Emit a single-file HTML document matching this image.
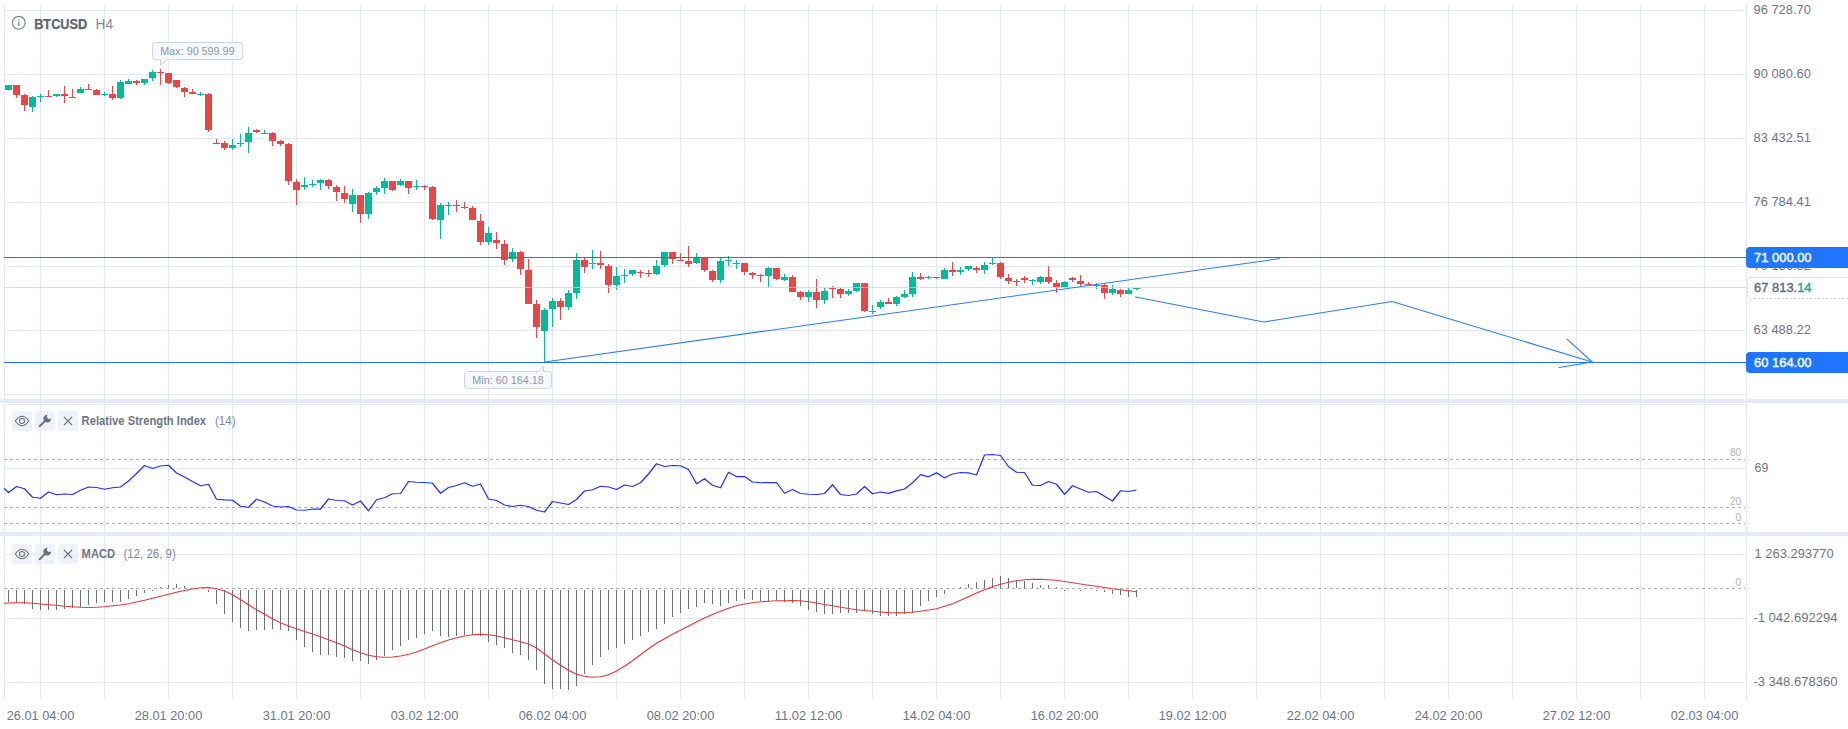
<!DOCTYPE html>
<html lang="en"><head><meta charset="utf-8"><title>BTCUSD H4</title>
<style>html,body{margin:0;padding:0;background:#fff;overflow:hidden}svg{display:block}</style>
</head><body>
<svg width="1848" height="729" viewBox="0 0 1848 729" font-family="'Liberation Sans', Arial, sans-serif">
<rect x="0" y="0" width="1848" height="729" fill="#ffffff"/>
<g fill="#e1e8fa" shape-rendering="crispEdges">
<rect x="4" y="5" width="1" height="694"/>
<rect x="40" y="5" width="1" height="694"/>
<rect x="104" y="5" width="1" height="694"/>
<rect x="168" y="5" width="1" height="694"/>
<rect x="232" y="5" width="1" height="694"/>
<rect x="296" y="5" width="1" height="694"/>
<rect x="360" y="5" width="1" height="694"/>
<rect x="424" y="5" width="1" height="694"/>
<rect x="488" y="5" width="1" height="694"/>
<rect x="552" y="5" width="1" height="694"/>
<rect x="616" y="5" width="1" height="694"/>
<rect x="680" y="5" width="1" height="694"/>
<rect x="744" y="5" width="1" height="694"/>
<rect x="808" y="5" width="1" height="694"/>
<rect x="872" y="5" width="1" height="694"/>
<rect x="936" y="5" width="1" height="694"/>
<rect x="1000" y="5" width="1" height="694"/>
<rect x="1064" y="5" width="1" height="694"/>
<rect x="1128" y="5" width="1" height="694"/>
<rect x="1192" y="5" width="1" height="694"/>
<rect x="1256" y="5" width="1" height="694"/>
<rect x="1320" y="5" width="1" height="694"/>
<rect x="1384" y="5" width="1" height="694"/>
<rect x="1448" y="5" width="1" height="694"/>
<rect x="1512" y="5" width="1" height="694"/>
<rect x="1576" y="5" width="1" height="694"/>
<rect x="1640" y="5" width="1" height="694"/>
<rect x="1704" y="5" width="1" height="694"/>
<rect x="1746" y="5" width="1" height="694"/>
<rect x="4" y="10" width="1743" height="1"/>
<rect x="4" y="74" width="1743" height="1"/>
<rect x="4" y="138" width="1743" height="1"/>
<rect x="4" y="202" width="1743" height="1"/>
<rect x="4" y="266" width="1743" height="1"/>
<rect x="4" y="330" width="1743" height="1"/>
<rect x="4" y="394" width="1743" height="1"/>
<rect x="4" y="404" width="1743" height="1"/>
<rect x="4" y="468" width="1743" height="1"/>
<rect x="4" y="554" width="1743" height="1"/>
<rect x="4" y="618" width="1743" height="1"/>
<rect x="4" y="682" width="1743" height="1"/>
</g>
<g fill="#e4eaf9" shape-rendering="crispEdges">
<rect x="0" y="399" width="1848" height="4"/>
<rect x="0" y="532" width="1848" height="4"/>
</g>
<g fill="#ea4547" shape-rendering="crispEdges"><rect x="16" y="85" width="1" height="13"/><rect x="13" y="85" width="7" height="10"/><rect x="24" y="94" width="1" height="17"/><rect x="21" y="95" width="7" height="10"/><rect x="48" y="90" width="1" height="7"/><rect x="45" y="96" width="7" height="1"/><rect x="64" y="86" width="1" height="17"/><rect x="61" y="94" width="7" height="2"/><rect x="72" y="89" width="1" height="9"/><rect x="69" y="97" width="7" height="1"/><rect x="88" y="84" width="1" height="6"/><rect x="85" y="89" width="7" height="1"/><rect x="96" y="89" width="1" height="6"/><rect x="93" y="90" width="7" height="5"/><rect x="112" y="86" width="1" height="14"/><rect x="109" y="94" width="7" height="4"/><rect x="136" y="80" width="1" height="5"/><rect x="133" y="81" width="7" height="2"/><rect x="160" y="69" width="1" height="16"/><rect x="157" y="72" width="7" height="1"/><rect x="168" y="73" width="1" height="11"/><rect x="165" y="73" width="7" height="10"/><rect x="176" y="80" width="1" height="8"/><rect x="173" y="80" width="7" height="7"/><rect x="184" y="87" width="1" height="10"/><rect x="181" y="88" width="7" height="4"/><rect x="192" y="89" width="1" height="5"/><rect x="189" y="92" width="7" height="2"/><rect x="208" y="93" width="1" height="39"/><rect x="205" y="94" width="7" height="36"/><rect x="216" y="139" width="1" height="5"/><rect x="213" y="143" width="7" height="1"/><rect x="224" y="141" width="1" height="9"/><rect x="221" y="143" width="7" height="5"/><rect x="256" y="129" width="1" height="4"/><rect x="253" y="130" width="7" height="2"/><rect x="272" y="132" width="1" height="14"/><rect x="269" y="133" width="7" height="8"/><rect x="280" y="140" width="1" height="6"/><rect x="277" y="141" width="7" height="3"/><rect x="288" y="143" width="1" height="42"/><rect x="285" y="144" width="7" height="37"/><rect x="296" y="179" width="1" height="26"/><rect x="293" y="182" width="7" height="8"/><rect x="328" y="179" width="1" height="10"/><rect x="325" y="180" width="7" height="6"/><rect x="336" y="185" width="1" height="16"/><rect x="333" y="187" width="7" height="5"/><rect x="344" y="186" width="1" height="17"/><rect x="341" y="193" width="7" height="6"/><rect x="360" y="195" width="1" height="28"/><rect x="357" y="195" width="7" height="19"/><rect x="392" y="181" width="1" height="10"/><rect x="389" y="181" width="7" height="9"/><rect x="408" y="181" width="1" height="13"/><rect x="405" y="181" width="7" height="7"/><rect x="424" y="185" width="1" height="5"/><rect x="421" y="186" width="7" height="1"/><rect x="432" y="186" width="1" height="34"/><rect x="429" y="187" width="7" height="32"/><rect x="456" y="200" width="1" height="12"/><rect x="453" y="205" width="7" height="1"/><rect x="464" y="202" width="1" height="7"/><rect x="461" y="207" width="7" height="1"/><rect x="472" y="206" width="1" height="14"/><rect x="469" y="208" width="7" height="12"/><rect x="480" y="214" width="1" height="31"/><rect x="477" y="221" width="7" height="21"/><rect x="496" y="232" width="1" height="17"/><rect x="493" y="240" width="7" height="3"/><rect x="504" y="240" width="1" height="25"/><rect x="501" y="244" width="7" height="16"/><rect x="520" y="251" width="1" height="24"/><rect x="517" y="252" width="7" height="17"/><rect x="528" y="259" width="1" height="45"/><rect x="525" y="270" width="7" height="34"/><rect x="536" y="300" width="1" height="38"/><rect x="533" y="304" width="7" height="23"/><rect x="560" y="298" width="1" height="22"/><rect x="557" y="301" width="7" height="6"/><rect x="584" y="258" width="1" height="15"/><rect x="581" y="260" width="7" height="7"/><rect x="600" y="251" width="1" height="18"/><rect x="597" y="263" width="7" height="2"/><rect x="608" y="264" width="1" height="29"/><rect x="605" y="266" width="7" height="19"/><rect x="640" y="270" width="1" height="8"/><rect x="637" y="272" width="7" height="1"/><rect x="648" y="270" width="1" height="7"/><rect x="645" y="273" width="7" height="1"/><rect x="672" y="252" width="1" height="12"/><rect x="669" y="252" width="7" height="7"/><rect x="680" y="253" width="1" height="8"/><rect x="677" y="260" width="7" height="1"/><rect x="688" y="246" width="1" height="21"/><rect x="685" y="261" width="7" height="3"/><rect x="704" y="258" width="1" height="14"/><rect x="701" y="258" width="7" height="12"/><rect x="712" y="270" width="1" height="12"/><rect x="709" y="271" width="7" height="9"/><rect x="744" y="263" width="1" height="12"/><rect x="741" y="263" width="7" height="9"/><rect x="752" y="272" width="1" height="7"/><rect x="749" y="273" width="7" height="2"/><rect x="760" y="274" width="1" height="8"/><rect x="757" y="275" width="7" height="1"/><rect x="776" y="268" width="1" height="12"/><rect x="773" y="268" width="7" height="11"/><rect x="792" y="275" width="1" height="17"/><rect x="789" y="277" width="7" height="15"/><rect x="800" y="291" width="1" height="9"/><rect x="797" y="292" width="7" height="5"/><rect x="816" y="279" width="1" height="29"/><rect x="813" y="292" width="7" height="8"/><rect x="832" y="286" width="1" height="12"/><rect x="829" y="288" width="7" height="1"/><rect x="840" y="288" width="1" height="10"/><rect x="837" y="289" width="7" height="5"/><rect x="864" y="283" width="1" height="29"/><rect x="861" y="283" width="7" height="28"/><rect x="888" y="298" width="1" height="6"/><rect x="885" y="302" width="7" height="2"/><rect x="920" y="273" width="1" height="7"/><rect x="917" y="277" width="7" height="2"/><rect x="936" y="277" width="1" height="2"/><rect x="933" y="277" width="7" height="1"/><rect x="952" y="262" width="1" height="14"/><rect x="949" y="270" width="7" height="2"/><rect x="976" y="266" width="1" height="7"/><rect x="973" y="268" width="7" height="2"/><rect x="1000" y="262" width="1" height="17"/><rect x="997" y="263" width="7" height="14"/><rect x="1008" y="274" width="1" height="10"/><rect x="1005" y="278" width="7" height="3"/><rect x="1016" y="279" width="1" height="7"/><rect x="1013" y="281" width="7" height="1"/><rect x="1024" y="276" width="1" height="7"/><rect x="1021" y="278" width="7" height="2"/><rect x="1048" y="266" width="1" height="18"/><rect x="1045" y="277" width="7" height="5"/><rect x="1056" y="280" width="1" height="13"/><rect x="1053" y="283" width="7" height="4"/><rect x="1072" y="277" width="1" height="5"/><rect x="1069" y="278" width="7" height="2"/><rect x="1080" y="275" width="1" height="11"/><rect x="1077" y="281" width="7" height="3"/><rect x="1088" y="282" width="1" height="3"/><rect x="1085" y="284" width="7" height="1"/><rect x="1104" y="284" width="1" height="15"/><rect x="1101" y="285" width="7" height="8"/><rect x="1120" y="289" width="1" height="8"/><rect x="1117" y="290" width="7" height="4"/></g>
<g fill="#00bc99" shape-rendering="crispEdges"><rect x="8" y="85" width="1" height="5"/><rect x="5" y="85" width="7" height="5"/><rect x="32" y="96" width="1" height="16"/><rect x="29" y="97" width="7" height="10"/><rect x="40" y="94" width="1" height="8"/><rect x="37" y="96" width="7" height="1"/><rect x="56" y="94" width="1" height="3"/><rect x="53" y="94" width="7" height="2"/><rect x="80" y="87" width="1" height="6"/><rect x="77" y="89" width="7" height="4"/><rect x="104" y="92" width="1" height="4"/><rect x="101" y="94" width="7" height="1"/><rect x="120" y="80" width="1" height="19"/><rect x="117" y="82" width="7" height="16"/><rect x="128" y="79" width="1" height="5"/><rect x="125" y="81" width="7" height="3"/><rect x="144" y="79" width="1" height="6"/><rect x="141" y="79" width="7" height="4"/><rect x="152" y="70" width="1" height="11"/><rect x="149" y="72" width="7" height="6"/><rect x="200" y="92" width="1" height="4"/><rect x="197" y="94" width="7" height="1"/><rect x="232" y="139" width="1" height="11"/><rect x="229" y="145" width="7" height="3"/><rect x="240" y="134" width="1" height="13"/><rect x="237" y="143" width="7" height="1"/><rect x="248" y="127" width="1" height="26"/><rect x="245" y="133" width="7" height="9"/><rect x="264" y="130" width="1" height="4"/><rect x="261" y="133" width="7" height="1"/><rect x="304" y="177" width="1" height="13"/><rect x="301" y="185" width="7" height="2"/><rect x="312" y="180" width="1" height="7"/><rect x="309" y="184" width="7" height="1"/><rect x="320" y="179" width="1" height="11"/><rect x="317" y="180" width="7" height="3"/><rect x="352" y="189" width="1" height="23"/><rect x="349" y="195" width="7" height="9"/><rect x="368" y="192" width="1" height="27"/><rect x="365" y="193" width="7" height="21"/><rect x="376" y="186" width="1" height="9"/><rect x="373" y="188" width="7" height="4"/><rect x="384" y="178" width="1" height="16"/><rect x="381" y="181" width="7" height="7"/><rect x="400" y="179" width="1" height="7"/><rect x="397" y="181" width="7" height="4"/><rect x="416" y="180" width="1" height="10"/><rect x="413" y="186" width="7" height="1"/><rect x="440" y="203" width="1" height="36"/><rect x="437" y="205" width="7" height="15"/><rect x="448" y="202" width="1" height="13"/><rect x="445" y="205" width="7" height="1"/><rect x="488" y="227" width="1" height="18"/><rect x="485" y="233" width="7" height="9"/><rect x="512" y="248" width="1" height="14"/><rect x="509" y="252" width="7" height="7"/><rect x="544" y="308" width="1" height="54"/><rect x="541" y="310" width="7" height="21"/><rect x="552" y="298" width="1" height="29"/><rect x="549" y="301" width="7" height="8"/><rect x="568" y="290" width="1" height="20"/><rect x="565" y="293" width="7" height="14"/><rect x="576" y="253" width="1" height="46"/><rect x="573" y="260" width="7" height="33"/><rect x="592" y="250" width="1" height="19"/><rect x="589" y="263" width="7" height="1"/><rect x="616" y="267" width="1" height="23"/><rect x="613" y="276" width="7" height="9"/><rect x="624" y="269" width="1" height="14"/><rect x="621" y="275" width="7" height="1"/><rect x="632" y="270" width="1" height="6"/><rect x="629" y="270" width="7" height="4"/><rect x="656" y="260" width="1" height="15"/><rect x="653" y="266" width="7" height="8"/><rect x="664" y="252" width="1" height="15"/><rect x="661" y="252" width="7" height="13"/><rect x="696" y="253" width="1" height="11"/><rect x="693" y="258" width="7" height="5"/><rect x="720" y="258" width="1" height="25"/><rect x="717" y="261" width="7" height="19"/><rect x="728" y="256" width="1" height="10"/><rect x="725" y="260" width="7" height="1"/><rect x="736" y="260" width="1" height="9"/><rect x="733" y="263" width="7" height="1"/><rect x="768" y="267" width="1" height="20"/><rect x="765" y="268" width="7" height="8"/><rect x="784" y="274" width="1" height="7"/><rect x="781" y="277" width="7" height="3"/><rect x="808" y="290" width="1" height="12"/><rect x="805" y="292" width="7" height="5"/><rect x="824" y="288" width="1" height="16"/><rect x="821" y="291" width="7" height="9"/><rect x="848" y="289" width="1" height="7"/><rect x="845" y="291" width="7" height="3"/><rect x="856" y="283" width="1" height="9"/><rect x="853" y="283" width="7" height="8"/><rect x="872" y="305" width="1" height="9"/><rect x="869" y="311" width="7" height="1"/><rect x="880" y="300" width="1" height="9"/><rect x="877" y="302" width="7" height="5"/><rect x="896" y="296" width="1" height="10"/><rect x="893" y="297" width="7" height="7"/><rect x="904" y="290" width="1" height="8"/><rect x="901" y="294" width="7" height="3"/><rect x="912" y="272" width="1" height="25"/><rect x="909" y="277" width="7" height="17"/><rect x="928" y="276" width="1" height="3"/><rect x="925" y="277" width="7" height="1"/><rect x="944" y="268" width="1" height="11"/><rect x="941" y="270" width="7" height="9"/><rect x="960" y="267" width="1" height="8"/><rect x="957" y="270" width="7" height="2"/><rect x="968" y="266" width="1" height="5"/><rect x="965" y="266" width="7" height="3"/><rect x="984" y="262" width="1" height="12"/><rect x="981" y="265" width="7" height="5"/><rect x="992" y="258" width="1" height="7"/><rect x="989" y="263" width="7" height="1"/><rect x="1032" y="279" width="1" height="6"/><rect x="1029" y="280" width="7" height="1"/><rect x="1040" y="276" width="1" height="8"/><rect x="1037" y="277" width="7" height="5"/><rect x="1064" y="281" width="1" height="6"/><rect x="1061" y="282" width="7" height="5"/><rect x="1096" y="283" width="1" height="6"/><rect x="1093" y="285" width="7" height="1"/><rect x="1112" y="285" width="1" height="10"/><rect x="1109" y="289" width="7" height="4"/><rect x="1128" y="288" width="1" height="6"/><rect x="1125" y="290" width="7" height="4"/><rect x="1136" y="288" width="1" height="2"/><rect x="1133" y="288" width="7" height="1"/></g>
<g fill="#1e76ff" shape-rendering="crispEdges">
<rect x="4" y="257" width="1742" height="1"/>
<rect x="4" y="362" width="1742" height="1"/>
</g>
<rect x="4" y="287" width="1742" height="1" fill="#c9cfe0" opacity="0.75" shape-rendering="crispEdges"/>
<g fill="none" stroke="#2f7bf5" stroke-width="1.05" stroke-linecap="round" stroke-linejoin="round">
<line x1="544.5" y1="362" x2="1279.8" y2="258.6"/>
<polyline points="1135.6,296.9 1263.8,321.9 1392,301.5 1592.2,362"/>
<polyline points="1567.1,339.2 1592.2,362 1559.2,367.5"/>
</g>
<g fill="#f4f6fb" fill-opacity="0.8" stroke="#ccd4e4" stroke-width="1">
<path d="M155.5,42.5 H239.7 Q242.7,42.5 242.7,45.5 V56.6 Q242.7,59.6 239.7,59.6 H166 L160.5,65.3 V59.6 H155.5 Q152.5,59.6 152.5,56.6 V45.5 Q152.5,42.5 155.5,42.5 Z"/>
<path d="M467.5,371.5 H538.5 L543.5,366.3 V371.5 H548.4 Q551.4,371.5 551.4,374.5 V385.4 Q551.4,388.4 548.4,388.4 H467.5 Q464.5,388.4 464.5,385.4 V374.5 Q464.5,371.5 467.5,371.5 Z"/>
</g>
<g fill="#8d97a7" font-size="11">
<text x="160.3" y="55" textLength="74.3" lengthAdjust="spacingAndGlyphs">Max: 90 599.99</text>
<text x="472.3" y="384" textLength="71.5" lengthAdjust="spacingAndGlyphs">Min: 60 164.18</text>
</g>
<g fill="none" stroke="#7b8697" stroke-width="1.2">
<circle cx="18.8" cy="22.8" r="6.4"/>
</g>
<g fill="#7b8697"><rect x="18.2" y="21.6" width="1.3" height="4.4"/><rect x="18.2" y="19.2" width="1.3" height="1.4"/></g>
<text x="34.2" y="29" font-size="14" font-weight="bold" fill="#5b6473" stroke="#5b6473" stroke-width="0.25" textLength="53" lengthAdjust="spacingAndGlyphs">BTCUSD</text>
<text x="95.6" y="29" font-size="14" fill="#7e8898" textLength="17.4" lengthAdjust="spacingAndGlyphs">H4</text>
<g fill="#6b7585" font-size="13">
<text x="1753.6" y="13.8" textLength="57.2" lengthAdjust="spacingAndGlyphs">96 728.70</text>
<text x="1753.6" y="77.8" textLength="57.2" lengthAdjust="spacingAndGlyphs">90 080.60</text>
<text x="1753.6" y="141.8" textLength="57.2" lengthAdjust="spacingAndGlyphs">83 432.51</text>
<text x="1753.6" y="205.8" textLength="57.2" lengthAdjust="spacingAndGlyphs">76 784.41</text>
<text x="1753.6" y="269.8" textLength="57.2" lengthAdjust="spacingAndGlyphs">70 136.32</text>
<text x="1753.6" y="333.8" textLength="57.2" lengthAdjust="spacingAndGlyphs">63 488.22</text>
<text x="1754.5" y="472.3" textLength="13.8" lengthAdjust="spacingAndGlyphs">69</text>
<text x="1754.6" y="557.8" textLength="79" lengthAdjust="spacingAndGlyphs">1 263.293770</text>
<text x="1753.4" y="621.8" textLength="84" lengthAdjust="spacingAndGlyphs">-1 042.692294</text>
<text x="1753.4" y="685.8" textLength="84" lengthAdjust="spacingAndGlyphs">-3 348.678360</text>
</g>
<path d="M1750,247 H1848 V268 H1750 Q1746,268 1746,264 V251 Q1746,247 1750,247 Z" fill="#1e76ff"/>
<path d="M1750,352 H1848 V373 H1750 Q1746,373 1746,369 V356 Q1746,352 1750,352 Z" fill="#1e76ff"/>
<g fill="#ffffff" font-size="13" stroke="#ffffff" stroke-width="0.4">
<text x="1754.1" y="262" textLength="57.4" lengthAdjust="spacingAndGlyphs">71 000.00</text>
<text x="1754.1" y="367" textLength="57.4" lengthAdjust="spacingAndGlyphs">60 164.00</text>
</g>
<path d="M1751.5,277.5 H1850 M1751.5,277.5 Q1747.5,277.5 1747.5,281.5 V294.5 Q1747.5,298.5 1751.5,298.5 H1850" fill="#ffffff" stroke="#cbd5ec" stroke-width="1" stroke-dasharray="2 2"/>
<text x="1754.1" y="292.4" font-size="13" fill="#5f6978" stroke="#5f6978" stroke-width="0.4" textLength="57.4" lengthAdjust="spacingAndGlyphs">67 813.<tspan fill="#12ad88" stroke="#12ad88">14</tspan></text>
<g stroke="#b2b2b2" stroke-width="1" stroke-dasharray="3 3" shape-rendering="crispEdges">
<line x1="4" y1="459.5" x2="1745" y2="459.5"/>
<line x1="4" y1="507.5" x2="1745" y2="507.5"/>
<line x1="4" y1="523.5" x2="1745" y2="523.5"/>
<line x1="4" y1="588.5" x2="1745" y2="588.5"/>
</g>
<g fill="#adb2bd" font-size="10" text-anchor="end">
<text x="1741" y="456.2">80</text>
<text x="1741" y="504.5">20</text>
<text x="1741" y="520.5">0</text>
<text x="1741" y="585.5">0</text>
</g>
<polyline points="4.0,488.25 8.5,492.50 16.5,486.50 24.5,488.75 32.5,497.25 40.5,498.25 48.5,492.00 56.5,494.75 64.5,494.00 72.5,494.50 80.5,490.25 88.5,487.00 96.5,487.50 104.5,489.25 112.5,487.75 120.5,487.00 128.5,481.00 136.5,473.50 144.5,465.50 152.5,468.50 160.5,466.00 168.5,465.25 176.5,473.00 184.5,477.00 192.5,481.50 200.5,485.75 208.5,484.25 216.5,499.25 224.5,499.85 232.5,500.25 240.5,506.25 248.5,507.25 256.5,499.25 264.5,502.00 272.5,506.00 280.5,507.00 288.5,506.50 296.5,510.00 304.5,510.25 312.5,509.00 320.5,509.00 328.5,499.00 336.5,500.50 344.5,500.75 352.5,505.00 360.5,501.00 368.5,510.75 376.5,499.75 384.5,497.75 392.5,493.75 400.5,493.50 408.5,481.50 416.5,482.25 424.5,482.50 432.5,483.25 440.5,493.25 448.5,487.50 456.5,485.50 464.5,482.75 472.5,486.25 480.5,484.00 488.5,499.00 496.5,500.50 504.5,505.00 512.5,506.50 520.5,505.25 528.5,506.50 536.5,510.25 544.5,512.00 552.5,501.50 560.5,503.00 568.5,504.50 576.5,499.50 584.5,491.00 592.5,489.75 600.5,486.25 608.5,487.00 616.5,489.50 624.5,485.00 632.5,486.50 640.5,482.75 648.5,474.00 656.5,463.75 664.5,466.50 672.5,465.50 680.5,465.75 688.5,469.50 696.5,483.75 704.5,478.75 712.5,485.25 720.5,487.75 728.5,472.25 736.5,476.50 744.5,476.50 752.5,482.00 760.5,482.75 768.5,482.50 776.5,482.50 784.5,493.25 792.5,489.50 800.5,493.50 808.5,494.25 816.5,494.50 824.5,493.50 832.5,484.75 840.5,494.50 848.5,495.50 856.5,494.00 864.5,486.50 872.5,493.75 880.5,492.00 888.5,493.40 896.5,490.90 904.5,489.00 912.5,482.80 920.5,474.60 928.5,476.80 936.5,472.90 944.5,477.80 952.5,474.00 960.5,472.50 968.5,472.90 976.5,475.00 984.5,455.00 992.5,454.50 1000.5,455.50 1008.5,466.50 1016.5,472.25 1024.5,472.50 1032.5,485.25 1040.5,485.50 1048.5,481.50 1056.5,484.25 1064.5,494.25 1072.5,485.75 1080.5,489.00 1088.5,492.25 1096.5,491.50 1104.5,496.25 1112.5,501.00 1120.5,490.75 1128.5,491.50 1136.5,490.00" fill="none" stroke="#2230ff" stroke-width="1.25" stroke-linejoin="round"/>
<g fill="#e9edf6" fill-opacity="0.7">
<rect x="12" y="411" width="20" height="20" rx="2.5"/>
<rect x="35" y="411" width="20" height="20" rx="2.5"/>
<rect x="58" y="411" width="20" height="20" rx="2.5"/>
</g>
<g fill="none" stroke="#66717f" stroke-width="1.1">
<path d="M15.3,421 Q22,411.6 28.7,421 Q22,430.4 15.3,421 Z"/>
<circle cx="22" cy="421" r="2.5"/>
</g>
<g transform="translate(47.2,418.7)">
<path d="M-2.2,2.2 L-7.6,7.5" stroke="#66717f" stroke-width="1.9" stroke-linecap="round" fill="none"/>
<path d="M0.35,-3.88 A3.9,3.9 0 1 0 3.88,-0.35 A2.5,2.5 0 0 1 0.35,-3.88 Z" fill="#66717f"/>
</g>
<g stroke="#66717f" stroke-width="1.25" fill="none">
<path d="M63.9,416.9 L72.1,425.1 M72.1,416.9 L63.9,425.1"/>
</g>
<text x="81.6" y="425.2" font-size="12" font-weight="bold" fill="#6b7585" textLength="124.5" lengthAdjust="spacingAndGlyphs">Relative Strength Index</text>
<text x="214.9" y="425.2" font-size="12" fill="#7e8898" textLength="20.7" lengthAdjust="spacingAndGlyphs">(14)</text>
<g fill="#6c707a" shape-rendering="crispEdges">
<rect x="8" y="590" width="1" height="12"/>
<rect x="16" y="590" width="1" height="13"/>
<rect x="24" y="590" width="1" height="14"/>
<rect x="32" y="590" width="1" height="19"/>
<rect x="40" y="590" width="1" height="20"/>
<rect x="48" y="590" width="1" height="20"/>
<rect x="56" y="590" width="1" height="20"/>
<rect x="64" y="590" width="1" height="19"/>
<rect x="72" y="590" width="1" height="18"/>
<rect x="80" y="590" width="1" height="17"/>
<rect x="88" y="590" width="1" height="15"/>
<rect x="96" y="590" width="1" height="13"/>
<rect x="104" y="590" width="1" height="12"/>
<rect x="112" y="590" width="1" height="12"/>
<rect x="120" y="590" width="1" height="12"/>
<rect x="128" y="590" width="1" height="9"/>
<rect x="136" y="590" width="1" height="6"/>
<rect x="144" y="590" width="1" height="3"/>
<rect x="152" y="590" width="1" height="1"/>
<rect x="160" y="587" width="1" height="1"/>
<rect x="168" y="585" width="1" height="3"/>
<rect x="176" y="584" width="1" height="4"/>
<rect x="184" y="586" width="1" height="2"/>
<rect x="208" y="590" width="1" height="2"/>
<rect x="216" y="590" width="1" height="14"/>
<rect x="224" y="590" width="1" height="24"/>
<rect x="232" y="590" width="1" height="32"/>
<rect x="240" y="590" width="1" height="38"/>
<rect x="248" y="590" width="1" height="41"/>
<rect x="256" y="590" width="1" height="40"/>
<rect x="264" y="590" width="1" height="40"/>
<rect x="272" y="590" width="1" height="39"/>
<rect x="280" y="590" width="1" height="40"/>
<rect x="288" y="590" width="1" height="41"/>
<rect x="296" y="590" width="1" height="50"/>
<rect x="304" y="590" width="1" height="57"/>
<rect x="312" y="590" width="1" height="62"/>
<rect x="320" y="590" width="1" height="65"/>
<rect x="328" y="590" width="1" height="65"/>
<rect x="336" y="590" width="1" height="67"/>
<rect x="344" y="590" width="1" height="68"/>
<rect x="352" y="590" width="1" height="71"/>
<rect x="360" y="590" width="1" height="71"/>
<rect x="368" y="590" width="1" height="74"/>
<rect x="376" y="590" width="1" height="70"/>
<rect x="384" y="590" width="1" height="66"/>
<rect x="392" y="590" width="1" height="60"/>
<rect x="400" y="590" width="1" height="56"/>
<rect x="408" y="590" width="1" height="50"/>
<rect x="416" y="590" width="1" height="48"/>
<rect x="424" y="590" width="1" height="44"/>
<rect x="432" y="590" width="1" height="41"/>
<rect x="440" y="590" width="1" height="46"/>
<rect x="448" y="590" width="1" height="47"/>
<rect x="456" y="590" width="1" height="46"/>
<rect x="464" y="590" width="1" height="45"/>
<rect x="472" y="590" width="1" height="45"/>
<rect x="480" y="590" width="1" height="46"/>
<rect x="488" y="590" width="1" height="52"/>
<rect x="496" y="590" width="1" height="55"/>
<rect x="504" y="590" width="1" height="58"/>
<rect x="512" y="590" width="1" height="63"/>
<rect x="520" y="590" width="1" height="65"/>
<rect x="528" y="590" width="1" height="70"/>
<rect x="536" y="590" width="1" height="80"/>
<rect x="544" y="590" width="1" height="94"/>
<rect x="552" y="590" width="1" height="99"/>
<rect x="560" y="590" width="1" height="99"/>
<rect x="568" y="590" width="1" height="100"/>
<rect x="576" y="590" width="1" height="96"/>
<rect x="584" y="590" width="1" height="84"/>
<rect x="592" y="590" width="1" height="75"/>
<rect x="600" y="590" width="1" height="67"/>
<rect x="608" y="590" width="1" height="60"/>
<rect x="616" y="590" width="1" height="58"/>
<rect x="624" y="590" width="1" height="54"/>
<rect x="632" y="590" width="1" height="50"/>
<rect x="640" y="590" width="1" height="46"/>
<rect x="648" y="590" width="1" height="42"/>
<rect x="656" y="590" width="1" height="39"/>
<rect x="664" y="590" width="1" height="34"/>
<rect x="672" y="590" width="1" height="27"/>
<rect x="680" y="590" width="1" height="23"/>
<rect x="688" y="590" width="1" height="19"/>
<rect x="696" y="590" width="1" height="17"/>
<rect x="704" y="590" width="1" height="13"/>
<rect x="712" y="590" width="1" height="14"/>
<rect x="720" y="590" width="1" height="16"/>
<rect x="728" y="590" width="1" height="13"/>
<rect x="736" y="590" width="1" height="11"/>
<rect x="744" y="590" width="1" height="9"/>
<rect x="752" y="590" width="1" height="10"/>
<rect x="760" y="590" width="1" height="11"/>
<rect x="768" y="590" width="1" height="12"/>
<rect x="776" y="590" width="1" height="11"/>
<rect x="784" y="590" width="1" height="12"/>
<rect x="792" y="590" width="1" height="13"/>
<rect x="800" y="590" width="1" height="16"/>
<rect x="808" y="590" width="1" height="20"/>
<rect x="816" y="590" width="1" height="22"/>
<rect x="824" y="590" width="1" height="24"/>
<rect x="832" y="590" width="1" height="24"/>
<rect x="840" y="590" width="1" height="23"/>
<rect x="848" y="590" width="1" height="23"/>
<rect x="856" y="590" width="1" height="23"/>
<rect x="864" y="590" width="1" height="21"/>
<rect x="872" y="590" width="1" height="24"/>
<rect x="880" y="590" width="1" height="26"/>
<rect x="888" y="590" width="1" height="26"/>
<rect x="896" y="590" width="1" height="26"/>
<rect x="904" y="590" width="1" height="24"/>
<rect x="912" y="590" width="1" height="23"/>
<rect x="920" y="590" width="1" height="16"/>
<rect x="928" y="590" width="1" height="11"/>
<rect x="936" y="590" width="1" height="7"/>
<rect x="944" y="590" width="1" height="4"/>
<rect x="960" y="587" width="1" height="1"/>
<rect x="968" y="584" width="1" height="4"/>
<rect x="976" y="582" width="1" height="6"/>
<rect x="984" y="580" width="1" height="8"/>
<rect x="992" y="578" width="1" height="10"/>
<rect x="1000" y="576" width="1" height="12"/>
<rect x="1008" y="578" width="1" height="10"/>
<rect x="1016" y="580" width="1" height="8"/>
<rect x="1024" y="581" width="1" height="7"/>
<rect x="1032" y="583" width="1" height="5"/>
<rect x="1040" y="585" width="1" height="3"/>
<rect x="1048" y="585" width="1" height="3"/>
<rect x="1056" y="587" width="1" height="1"/>
<rect x="1064" y="590" width="1" height="1"/>
<rect x="1080" y="590" width="1" height="1"/>
<rect x="1096" y="590" width="1" height="1"/>
<rect x="1104" y="590" width="1" height="2"/>
<rect x="1112" y="590" width="1" height="4"/>
<rect x="1120" y="590" width="1" height="5"/>
<rect x="1128" y="590" width="1" height="7"/>
<rect x="1136" y="590" width="1" height="7"/>
</g>
<polyline points="4.0,603.30 8.5,603.00 16.5,602.70 24.5,602.70 32.5,603.30 40.5,604.00 48.5,604.70 56.5,605.30 64.5,606.20 72.5,606.80 80.5,607.30 88.5,607.50 96.5,607.30 104.5,606.70 112.5,605.80 120.5,605.00 128.5,603.70 136.5,602.00 144.5,600.20 152.5,598.30 160.5,596.30 168.5,594.30 176.5,592.30 184.5,590.50 192.5,589.00 200.5,587.80 208.5,587.50 216.5,588.70 224.5,591.00 232.5,594.70 240.5,599.70 248.5,604.70 256.5,609.70 264.5,614.30 272.5,618.70 280.5,622.70 288.5,626.00 296.5,628.80 304.5,631.50 312.5,634.00 320.5,636.70 328.5,639.70 336.5,642.70 344.5,646.00 352.5,649.70 360.5,652.70 368.5,655.30 376.5,656.80 384.5,657.30 392.5,657.00 400.5,656.00 408.5,654.30 416.5,652.00 424.5,649.00 432.5,645.70 440.5,642.70 448.5,640.00 456.5,637.70 464.5,636.00 472.5,634.70 480.5,634.20 488.5,634.70 496.5,636.00 504.5,637.80 512.5,639.70 520.5,641.70 528.5,644.00 536.5,648.00 544.5,654.00 552.5,660.00 560.5,665.30 568.5,670.30 576.5,674.30 584.5,676.30 592.5,677.30 600.5,676.80 608.5,674.70 616.5,671.00 624.5,666.30 632.5,660.80 640.5,654.70 648.5,648.70 656.5,643.30 664.5,638.70 672.5,634.30 680.5,630.30 688.5,626.00 696.5,622.00 704.5,618.00 712.5,614.50 720.5,611.30 728.5,608.30 736.5,605.80 744.5,604.00 752.5,602.70 760.5,601.70 768.5,601.20 776.5,600.80 784.5,600.70 792.5,600.50 800.5,600.70 808.5,601.70 816.5,603.00 824.5,604.50 832.5,605.80 840.5,607.20 848.5,608.50 856.5,609.70 864.5,610.50 872.5,611.30 880.5,612.00 888.5,612.60 896.5,612.80 904.5,612.80 912.5,612.30 920.5,611.20 928.5,610.00 936.5,608.70 944.5,606.30 952.5,603.70 960.5,600.30 968.5,596.70 976.5,593.00 984.5,589.70 992.5,586.70 1000.5,584.30 1008.5,582.30 1016.5,580.70 1024.5,579.80 1032.5,579.30 1040.5,579.30 1048.5,579.70 1056.5,580.30 1064.5,581.50 1072.5,582.80 1080.5,584.00 1088.5,585.20 1096.5,586.30 1104.5,587.50 1112.5,588.70 1120.5,589.70 1128.5,590.70 1136.5,591.70" fill="none" stroke="#ea3838" stroke-width="1.15" stroke-linejoin="round"/>
<g fill="#e9edf6" fill-opacity="0.7">
<rect x="12" y="544" width="20" height="20" rx="2.5"/>
<rect x="35" y="544" width="20" height="20" rx="2.5"/>
<rect x="58" y="544" width="20" height="20" rx="2.5"/>
</g>
<g fill="none" stroke="#66717f" stroke-width="1.1">
<path d="M15.3,554 Q22,544.6 28.7,554 Q22,563.4 15.3,554 Z"/>
<circle cx="22" cy="554" r="2.5"/>
</g>
<g transform="translate(47.2,551.7)">
<path d="M-2.2,2.2 L-7.6,7.5" stroke="#66717f" stroke-width="1.9" stroke-linecap="round" fill="none"/>
<path d="M0.35,-3.88 A3.9,3.9 0 1 0 3.88,-0.35 A2.5,2.5 0 0 1 0.35,-3.88 Z" fill="#66717f"/>
</g>
<g stroke="#66717f" stroke-width="1.25" fill="none">
<path d="M63.9,549.9 L72.1,558.1 M72.1,549.9 L63.9,558.1"/>
</g>
<text x="81.6" y="558.2" font-size="12" font-weight="bold" fill="#6b7585" textLength="33.5" lengthAdjust="spacingAndGlyphs">MACD</text>
<text x="123.5" y="558.2" font-size="12" fill="#7e8898" textLength="52.3" lengthAdjust="spacingAndGlyphs">(12, 26, 9)</text>
<g fill="#6b7585" font-size="13" text-anchor="middle">
<text x="40.5" y="720" textLength="67.5" lengthAdjust="spacingAndGlyphs">26.01 04:00</text>
<text x="168.5" y="720" textLength="67.5" lengthAdjust="spacingAndGlyphs">28.01 20:00</text>
<text x="296.5" y="720" textLength="67.5" lengthAdjust="spacingAndGlyphs">31.01 20:00</text>
<text x="424.5" y="720" textLength="67.5" lengthAdjust="spacingAndGlyphs">03.02 12:00</text>
<text x="552.5" y="720" textLength="67.5" lengthAdjust="spacingAndGlyphs">06.02 04:00</text>
<text x="680.5" y="720" textLength="67.5" lengthAdjust="spacingAndGlyphs">08.02 20:00</text>
<text x="808.5" y="720" textLength="67.5" lengthAdjust="spacingAndGlyphs">11.02 12:00</text>
<text x="936.5" y="720" textLength="67.5" lengthAdjust="spacingAndGlyphs">14.02 04:00</text>
<text x="1064.5" y="720" textLength="67.5" lengthAdjust="spacingAndGlyphs">16.02 20:00</text>
<text x="1192.5" y="720" textLength="67.5" lengthAdjust="spacingAndGlyphs">19.02 12:00</text>
<text x="1320.5" y="720" textLength="67.5" lengthAdjust="spacingAndGlyphs">22.02 04:00</text>
<text x="1448.5" y="720" textLength="67.5" lengthAdjust="spacingAndGlyphs">24.02 20:00</text>
<text x="1576.5" y="720" textLength="67.5" lengthAdjust="spacingAndGlyphs">27.02 12:00</text>
<text x="1704.5" y="720" textLength="67.5" lengthAdjust="spacingAndGlyphs">02.03 04:00</text>
</g>
</svg>
</body></html>
